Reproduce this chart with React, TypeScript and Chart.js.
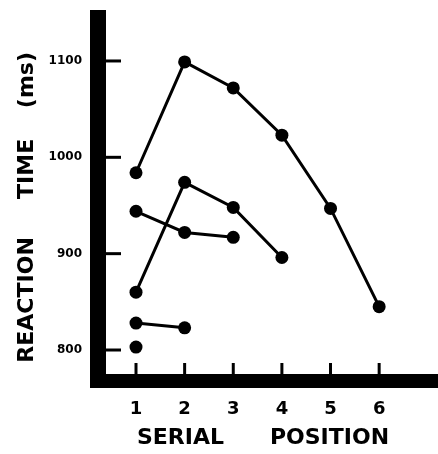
import { useEffect, useRef } from "react";
import { Chart, registerables } from "chart.js";

Chart.register(...registerables);

// Serial position (x) and reaction times in ms (y), one array per set size
const positions = [1, 2, 3, 4, 5, 6];
const setSize1 = [803];
const setSize2 = [828, 823];
const setSize3 = [944, 922, 917];
const setSize4 = [860, 974, 948, 896];
const setSize6 = [984, 1099, 1072, 1023, 947, 845];

const yTickValues = [800, 900, 1000, 1100];
const xTickValues = [1, 2, 3, 4, 5, 6];
const xTitle = "SERIAL      POSITION";
const yTitle = "REACTION     TIME    (ms)    ";

const FONT = "'DejaVu Sans', 'Liberation Sans', sans-serif";

const toPoints = (vals: number[]) => vals.map((v, i) => ({ x: positions[i], y: v }));

const thickAxes = {
  id: "thickAxes",
  afterDraw(chart: any) {
    const { ctx, chartArea, scales } = chart;
    const yBar = 16;
    const xBar = 14;
    ctx.save();
    ctx.fillStyle = "#000";
    ctx.fillRect(chartArea.left - yBar, chartArea.top, yBar, chartArea.bottom - chartArea.top + xBar);
    ctx.fillRect(chartArea.left - yBar, chartArea.bottom, chart.width - chartArea.left + yBar, xBar);
    ctx.strokeStyle = "#000";
    ctx.lineWidth = 3;
    for (const v of yTickValues) {
      const p = scales.y.getPixelForValue(v);
      ctx.beginPath();
      ctx.moveTo(chartArea.left, p);
      ctx.lineTo(chartArea.left + 15, p);
      ctx.stroke();
    }
    for (const v of xTickValues) {
      const p = scales.x.getPixelForValue(v);
      ctx.beginPath();
      ctx.moveTo(p, chartArea.bottom);
      ctx.lineTo(p, chartArea.bottom - 11);
      ctx.stroke();
    }
    ctx.restore();
  },
};

export default function App() {
  const ref = useRef<HTMLCanvasElement>(null);

  useEffect(() => {
    if (!ref.current) return;
    const series = [setSize1, setSize2, setSize3, setSize4, setSize6];
    const chart = new Chart(ref.current, {
      type: "line",
      data: {
        datasets: series.map((s) => ({
          data: toPoints(s),
          borderColor: "#000",
          backgroundColor: "#000",
          borderWidth: 3,
          pointRadius: 6.5,
          pointBorderWidth: 0,
          pointBackgroundColor: "#000",
          tension: 0,
          clip: false as any,
        })),
      },
      options: {
        responsive: false,
        animation: false,
        layout: { autoPadding: false, padding: { top: 10, right: 18, left: 0, bottom: 0 } },
        plugins: { legend: { display: false }, tooltip: { enabled: false } },
        scales: {
          x: {
            type: "linear",
            min: 0.383,
            max: 6.84,
            grid: { display: false, drawTicks: false },
            border: { display: false },
            afterBuildTicks: (s: any) => {
              s.ticks = xTickValues.map((v) => ({ value: v }));
            },
            afterFit: (s: any) => {
              s.height = 80;
              s.paddingLeft = 0;
              s.paddingRight = 0;
              s.paddingTop = 0;
              s.paddingBottom = 0;
            },
            ticks: {
              color: "#000",
              padding: 25,
              font: { family: FONT, size: 18, weight: "bold" },
              callback: (v: any) => String(v),
            },
            title: {
              display: true,
              text: xTitle,
              color: "#000",
              font: { family: FONT, size: 22, weight: "bold" },
              padding: { top: 0, bottom: 3 },
            },
          },
          y: {
            type: "linear",
            min: 775.1,
            max: 1152.9,
            grid: { display: false, drawTicks: false },
            border: { display: false },
            afterBuildTicks: (s: any) => {
              s.ticks = yTickValues.map((v) => ({ value: v }));
            },
            afterFit: (s: any) => {
              s.width = 106;
              s.paddingLeft = 0;
              s.paddingRight = 0;
              s.paddingTop = 0;
              s.paddingBottom = 0;
            },
            ticks: {
              color: "#000",
              padding: 24,
              font: { family: FONT, size: 12, weight: "bold" },
              callback: (v: any) => String(v),
            },
            title: {
              display: true,
              text: yTitle,
              color: "#000",
              font: { family: FONT, size: 22, weight: "bold" },
              padding: { top: 14, bottom: 0 },
            },
          },
        },
      },
      plugins: [thickAxes],
    });
    return () => chart.destroy();
  }, []);

  return (
    <div style={{ position: "absolute", left: 0, top: 0, width: 438, height: 454, background: "#fff" }}>
      <canvas ref={ref} width={438} height={454} style={{ width: 438, height: 454 }} />
    </div>
  );
}
